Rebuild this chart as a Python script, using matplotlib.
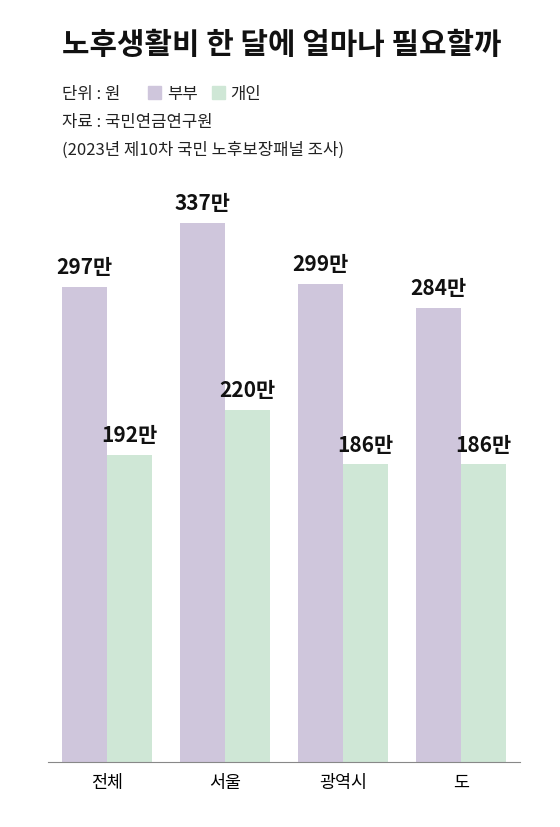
import matplotlib.pyplot as plt
import numpy as np
from matplotlib.patches import Rectangle

plt.rcParams['font.family'] = ['Noto Sans CJK KR', 'DejaVu Sans']

categories = ["전체", "서울", "광역시", "도"]
couple = [297, 337, 299, 284]
single = [192, 220, 186, 186]

PURPLE = "#cfc6dc"
GREEN = "#cfe7d6"

fig = plt.figure(figsize=(5.6, 8.28), dpi=100)
ax = fig.add_axes([48 / 560, 65 / 828, 472 / 560, 560 / 828])

x = np.arange(len(categories))
w = 0.38
ax.bar(x - w / 2, couple, w, color=PURPLE)
ax.bar(x + w / 2, single, w, color=GREEN)
for xi, c, s in zip(x, couple, single):
    ax.text(xi - w / 2, c + 6, f"{c}만", ha="center", va="bottom",
            fontsize=15, fontweight="bold", color="#111111")
    ax.text(xi + w / 2, s + 6, f"{s}만", ha="center", va="bottom",
            fontsize=15, fontweight="bold", color="#111111")

ax.set_xlim(-0.5, 3.5)
ax.set_ylim(0, 350)
ax.set_xticks(x)
ax.set_xticklabels(categories, fontsize=12.5)
ax.tick_params(axis="x", length=0, pad=8)
ax.set_yticks([])
for side in ["top", "right", "left"]:
    ax.spines[side].set_visible(False)
ax.spines["bottom"].set_color("#888888")

fig.text(62 / 560, 1 - 45 / 828, "노후생활비 한 달에 얼마나 필요할까", ha="left", va="center",
         fontsize=21.5, fontweight="bold", color="#111111")
fig.text(62 / 560, 1 - 94 / 828, "단위 : 원", ha="left", va="center", fontsize=12, color="#222222")
fig.patches.append(Rectangle((148 / 560, 1 - 100 / 828), 13 / 560, 13 / 828,
                             transform=fig.transFigure, color=PURPLE))
fig.text(167 / 560, 1 - 94 / 828, "부부", ha="left", va="center", fontsize=12, color="#222222")
fig.patches.append(Rectangle((212 / 560, 1 - 100 / 828), 13 / 560, 13 / 828,
                             transform=fig.transFigure, color=GREEN))
fig.text(230 / 560, 1 - 94 / 828, "개인", ha="left", va="center", fontsize=12, color="#222222")
fig.text(62 / 560, 1 - 122 / 828, "자료 : 국민연금연구원", ha="left", va="center", fontsize=12, color="#222222")
fig.text(62 / 560, 1 - 150 / 828, "(2023년 제10차 국민 노후보장패널 조사)", ha="left", va="center",
         fontsize=12, color="#222222")

fig.savefig("out.png", dpi=100)
